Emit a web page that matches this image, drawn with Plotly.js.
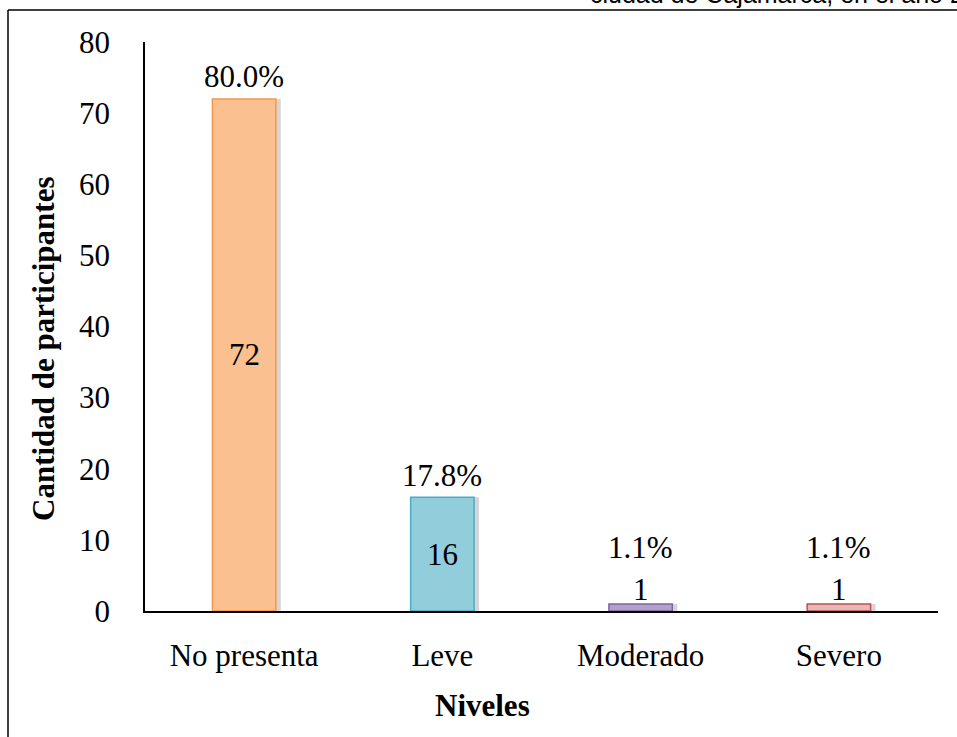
<!DOCTYPE html>
<html>
<head>
<meta charset="utf-8">
<script src="https://cdn.plot.ly/plotly-3.0.1.min.js"></script>
<style>html,body{margin:0;padding:0;background:#fff;}#chart{width:957px;height:737px;}</style>
</head>
<body>
<div id="chart"></div>
<script>
const categories = ["No presenta", "Leve", "Moderado", "Severo"];
const counts = [72, 16, 1, 1];
const percentLabels = ["80.0%", "17.8%", "1.1%", "1.1%"];
const fillColors = ["#FAC090", "#92CDDC", "#B3A2C7", "#E6B9B8"];
const edgeColors = ["#F79646", "#4BACC6", "#8064A2", "#C0504D"];
const yTicks = [0, 10, 20, 30, 40, 50, 60, 70, 80];

const serif = "Liberation Serif, Times New Roman, serif";
const W = 957, H = 737;
const M = {l: 145, r: 19, t: 42, b: 126};
const pw = W - M.l - M.r, ph = H - M.t - M.b;
const px2x = p => (p - M.l) / pw;
const px2y = p => 1 - (p - M.t) / ph;

const barWidth = 0.32;

const shadow = {
  type: "bar", x: categories, y: counts, width: barWidth, offset: -barWidth / 2 + 0.025,
  marker: {color: "rgba(0,0,0,0.16)", line: {width: 0}},
  hoverinfo: "skip", showlegend: false
};
const bars = {
  type: "bar", x: categories, y: counts, width: barWidth, offset: -barWidth / 2,
  marker: {color: fillColors, line: {color: edgeColors, width: 1.5}},
  showlegend: false
};

const annotations = [];
categories.forEach((c, i) => {
  const big = counts[i] > 5;
  annotations.push({
    x: c, y: big ? counts[i] / 2 : counts[i], xref: "x", yref: "y",
    text: String(counts[i]), showarrow: false, yanchor: "middle",
    yshift: big ? 0 : 14,
    font: {family: serif, size: 31, color: "#000"}
  });
  annotations.push({
    x: c, y: counts[i], xref: "x", yref: "y",
    text: percentLabels[i], showarrow: false, yanchor: "middle",
    yshift: big ? 22 : 56,
    font: {family: serif, size: 31, color: "#000"}
  });
});
annotations.push({
  x: px2x(482), y: px2y(705), xref: "paper", yref: "paper",
  text: "<b>Niveles</b>", showarrow: false, xanchor: "center", yanchor: "middle",
  font: {family: serif, size: 31, color: "#000"}
});
annotations.push({
  x: px2x(43), y: px2y(349), xref: "paper", yref: "paper",
  text: "<b>Cantidad de participantes</b>", showarrow: false, textangle: -90,
  xanchor: "center", yanchor: "middle",
  font: {family: serif, size: 31, color: "#000"}
});
annotations.push({
  x: px2x(966), y: px2y(10), xref: "paper", yref: "paper",
  text: "ciudad de Cajamarca, en el año 2", showarrow: false,
  xanchor: "right", yanchor: "bottom",
  font: {family: "Liberation Sans, Arial, sans-serif", size: 25, color: "#000"}
});

const layout = {
  width: W, height: H,
  margin: M,
  paper_bgcolor: "#fff", plot_bgcolor: "#fff",
  barmode: "overlay",
  xaxis: {
    type: "category", range: [-0.5, 3.5],
    showline: true, linecolor: "#000", linewidth: 1.8,
    showgrid: false, zeroline: false, ticks: "",
    ticklabelstandoff: 16,
    tickfont: {family: serif, size: 31, color: "#000"}
  },
  yaxis: {
    range: [0, 80], tickvals: yTicks, ticktext: yTicks.map(String),
    showline: true, linecolor: "#000", linewidth: 1.8,
    showgrid: false, zeroline: false, ticks: "",
    ticklabelstandoff: 27,
    tickfont: {family: serif, size: 31, color: "#000"}
  },
  annotations: annotations,
  shapes: [
    {type: "line", xref: "paper", yref: "paper", x0: px2x(8), x1: px2x(970), y0: px2y(10), y1: px2y(10), line: {color: "#000", width: 1.5}},
    {type: "line", xref: "paper", yref: "paper", x0: px2x(8), x1: px2x(8), y0: px2y(10), y1: px2y(750), line: {color: "#000", width: 1.5}}
  ]
};

Plotly.newPlot("chart", [shadow, bars], layout, {staticPlot: true, displayModeBar: false});
</script>
</body>
</html>
